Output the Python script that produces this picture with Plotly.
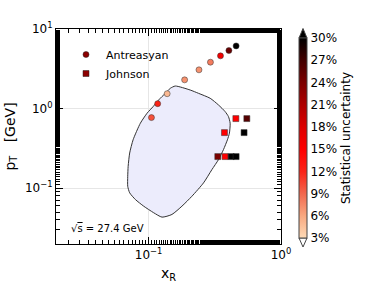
import plotly.graph_objects as go

# ---- data ----
antre_x = [0.105, 0.117, 0.138, 0.187, 0.240, 0.293, 0.349, 0.404, 0.458]
antre_pt = [0.772, 1.155, 1.54, 2.30, 3.07, 3.83, 4.60, 5.37, 6.13]
antre_unc = [10, 12, 5, 7, 7, 8, 16, 25, 31]

john_x = [0.456, 0.552, 0.374, 0.526, 0.333, 0.378, 0.420, 0.458]
john_pt = [0.75, 0.75, 0.50, 0.50, 0.25, 0.25, 0.25, 0.25]
john_unc = [15, 26, 15, 31, 24, 15, 31, 31]

contour_x = [0.1589, 0.206, 0.238, 0.2917, 0.3369, 0.3784, 0.4009, 0.4128, 0.4077, 0.3938,
             0.3674, 0.3369, 0.3005, 0.2598, 0.2123, 0.1785, 0.150, 0.1262, 0.1091, 0.0917,
             0.0794, 0.0719, 0.0695, 0.0695, 0.0700, 0.0719, 0.0763, 0.0866, 0.0973, 0.108,
             0.119, 0.1336, 0.1457]
contour_pt = [1.922, 1.713, 1.557, 1.349, 1.112, 0.917, 0.794, 0.657, 0.4927, 0.406,
              0.305, 0.2285, 0.1713, 0.1168, 0.0794, 0.0596, 0.0469, 0.0434, 0.0493, 0.0596,
              0.0722, 0.0876, 0.1059, 0.1413, 0.1884, 0.277, 0.406, 0.657, 0.876, 1.059,
              1.285, 1.557, 1.799]

cb_ticks = [3, 6, 9, 12, 15, 18, 21, 24, 27, 30]
cb_ticktext = [f"{v}%" for v in cb_ticks]

cscale = [
    [0.0, "rgb(253,218,182)"],
    [0.11, "rgb(248,168,128)"],
    [0.22, "rgb(242,104,78)"],
    [0.33, "rgb(250,36,24)"],
    [0.44, "rgb(255,0,0)"],
    [0.55, "rgb(222,0,0)"],
    [0.67, "rgb(172,0,0)"],
    [0.78, "rgb(122,0,0)"],
    [0.89, "rgb(66,0,0)"],
    [1.0, "rgb(0,0,0)"],
]

FONT = "DejaVu Sans"
W, H = 374, 288
L, R, T, B = 56, 93, 29, 44
PW, PH = W - L - R, H - T - B


def px2paper(px, py):
    return (px - L) / PW, (H - B - py) / PH


fig = go.Figure()

cx = contour_x + [contour_x[0]]
cy = contour_pt + [contour_pt[0]]
fig.add_trace(go.Scatter(
    x=cx, y=cy, mode="lines", line=dict(color="#333333", width=1, shape="spline", smoothing=0.6),
    fill="toself", fillcolor="rgb(236,236,252)", showlegend=False, hoverinfo="skip"))

fig.add_trace(go.Scatter(
    x=antre_x, y=antre_pt, mode="markers", showlegend=False,
    marker=dict(symbol="circle", size=6, color=antre_unc, colorscale=cscale, cmin=3, cmax=30,
                line=dict(color="#333333", width=0.5),
                colorbar=dict(
                    tickvals=cb_ticks, ticktext=cb_ticktext,
                    thickness=8, thicknessmode="pixels",
                    len=200, lenmode="pixels",
                    x=px2paper(299, 0)[0], xanchor="left", xpad=0,
                    y=px2paper(0, 138)[1], yanchor="middle", ypad=0,
                    outlinewidth=1, outlinecolor="#444444",
                    ticks="", ticklabelposition="outside",
                    tickfont=dict(family=FONT, size=12, color="black"),
                    title=dict(text="Statistical uncertainty", side="right",
                               font=dict(family=FONT, size=12, color="black")),
                ))))

fig.add_trace(go.Scatter(
    x=john_x, y=john_pt, mode="markers", showlegend=False,
    marker=dict(symbol="square", size=6, color=john_unc, colorscale=cscale, cmin=3, cmax=30,
                line=dict(color="#333333", width=0.5), showscale=False)))

# legend entries
fig.add_trace(go.Scatter(x=[None], y=[None], mode="markers", name="Antreasyan",
                         marker=dict(symbol="circle", size=6, color="rgb(140,0,0)",
                                     line=dict(color="#222222", width=0.5))))
fig.add_trace(go.Scatter(x=[None], y=[None], mode="markers", name="Johnson",
                         marker=dict(symbol="square", size=6, color="rgb(140,0,0)",
                                     line=dict(color="#222222", width=0.5))))

# colorbar extension triangles
x0, y0 = px2paper(299, 38)
x1, _ = px2paper(307, 38)
xm, yt = px2paper(303, 28.5)
fig.add_shape(type="path", xref="paper", yref="paper",
              path=f"M {x0},{y0} L {x1},{y0} L {xm},{yt} Z",
              fillcolor="black", line=dict(color="#444444", width=1))
x0, y0 = px2paper(299, 238)
xm, yb = px2paper(303, 247)
fig.add_shape(type="path", xref="paper", yref="paper",
              path=f"M {x0},{y0} L {x1},{y0} L {xm},{yb} Z",
              fillcolor="white", line=dict(color="#444444", width=1))

tx, ty = px2paper(69, 228)
fig.add_annotation(xref="paper", yref="paper", x=tx, y=ty, xanchor="left", yanchor="middle",
                   showarrow=False,
                   text="√<span style='text-decoration:overline'>s</span> = 27.4 GeV",
                   font=dict(family=FONT, size=10, color="black"))

axis_common = dict(
    type="log", showline=True, linecolor="black", linewidth=1, mirror="ticks",
    ticks="inside", ticklen=7, tickcolor="black", tickwidth=1,
    showgrid=True, gridcolor="#e6e6e6", gridwidth=1, zeroline=False, automargin=False,
    tickfont=dict(family=FONT, size=12, color="black"),
    minor=dict(ticks="inside", ticklen=4, tickcolor="black", showgrid=False),
)

fig.update_xaxes(**axis_common, range=[-1.7, 0],
                 tickvals=[0.1, 1], ticktext=["10<sup>−1</sup>", "10<sup>0</sup>"],
                 title=dict(text="x<sub>R</sub>", font=dict(family=FONT, size=14, color="black"), standoff=6))
fig.update_yaxes(**axis_common, range=[-1.7, 1],
                 tickvals=[0.1, 1, 10], ticktext=["10<sup>−1</sup>", "10<sup>0</sup>", "10<sup>1</sup>"],
                 title=dict(text="p<sub>T</sub>   [GeV]", font=dict(family=FONT, size=14, color="black"), standoff=6))

fig.update_layout(
    width=W, height=H, margin=dict(l=L, r=R, t=T, b=B, autoexpand=False),
    paper_bgcolor="white", plot_bgcolor="white",
    font=dict(family=FONT, color="black"),
    legend=dict(x=px2paper(66, 0)[0], y=px2paper(0, 40)[1], xanchor="left", yanchor="top",
                bgcolor="rgba(0,0,0,0)", font=dict(family=FONT, size=11, color="black"),
                itemwidth=30, tracegroupgap=0),
)

fig.write_html("out.html", config={"displayModeBar": False},
               post_script="document.body.style.margin='0';document.body.style.padding='0';")
